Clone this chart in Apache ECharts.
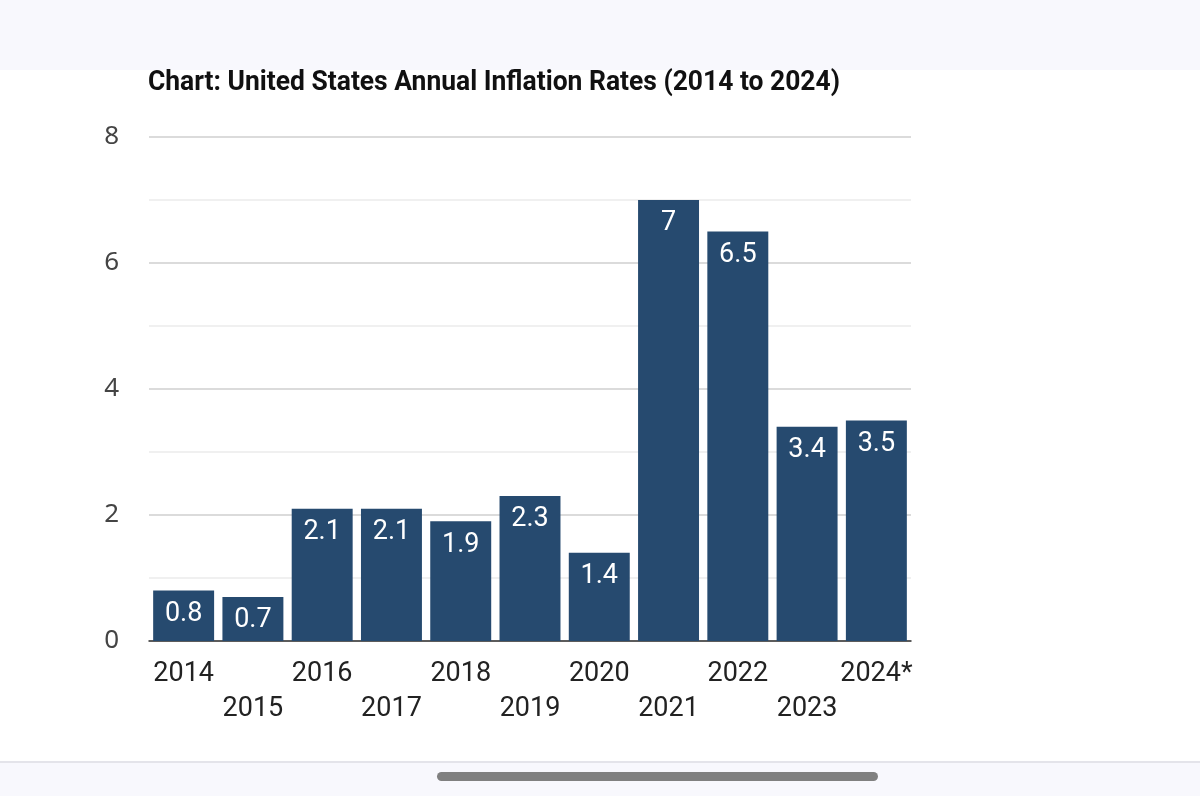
<!DOCTYPE html>
<html>
<head>
<meta charset="utf-8">
<title>United States Annual Inflation Rates</title>
<script src="https://cdn.jsdelivr.net/npm/echarts@6/dist/echarts.min.js"></script>
<style>
    html, body { margin: 0; padding: 0; background: #fff; }
    #topBand { position: absolute; left: 0; top: 0; width: 1200px; height: 70px; background: #f8f8fd; }
    #bottomBand { position: absolute; left: 0; top: 761px; width: 1200px; height: 35px; background: #f8f8fd; border-top: 2px solid #e4e4ea; }
    #homeBar { position: absolute; left: 437px; top: 772px; width: 441px; height: 9px; border-radius: 5px; background: #808080; }
    #chart { position: absolute; left: 0; top: 0; width: 1200px; height: 796px; }
</style>
</head>
<body>
<div id="topBand"></div>
<div id="chart"></div>
<div id="bottomBand"></div>
<div id="homeBar"></div>
<script>
var years = ['2014', '2015', '2016', '2017', '2018', '2019', '2020', '2021', '2022', '2023', '2024*'];
var rates = [0.8, 0.7, 2.1, 2.1, 1.9, 2.3, 1.4, 7, 6.5, 3.4, 3.5];
var yTicks = [0, 2, 4, 6, 8];
var titleText = 'Chart: United States Annual Inflation Rates (2014 to 2024)';

// title in the screenshot is a condensed bold face, squeeze Roboto Bold to the same width
var titleFont = 'bold 27px Roboto';
var ctx = document.createElement('canvas').getContext('2d');
ctx.font = titleFont;
var titleScale = 692 / ctx.measureText(titleText).width;

var chart = echarts.init(document.getElementById('chart'));
chart.setOption({
    animation: false,
    graphic: [{
        type: 'text',
        x: 148,
        y: 83,
        scaleX: titleScale,
        style: {
            text: titleText,
            font: titleFont,
            fill: '#111',
            textAlign: 'left',
            textVerticalAlign: 'middle'
        }
    }],
    grid: {
        left: 149,
        right: 289,
        top: 137,
        bottom: 155
    },
    xAxis: {
        type: 'category',
        data: years,
        axisLine: { lineStyle: { color: '#333', width: 1.5 } },
        axisTick: { show: false },
        axisLabel: {
            interval: 0,
            fontFamily: 'Roboto',
            fontSize: 27,
            color: '#222',
            margin: 16,
            lineHeight: 35,
            formatter: function (val, idx) {
                return idx % 2 ? '\n' + val : val;
            }
        }
    },
    yAxis: {
        type: 'value',
        min: yTicks[0],
        max: yTicks[yTicks.length - 1],
        interval: 2,
        axisLine: { show: false },
        axisTick: { show: false },
        axisLabel: {
            fontFamily: "'Noto Sans'",
            fontSize: 26,
            color: '#444',
            margin: 30
        },
        splitLine: { lineStyle: { color: '#cfcfcf', width: 1.5 } },
        minorTick: { show: false, splitNumber: 2 },
        minorSplitLine: { show: true, lineStyle: { color: '#ececec', width: 1.5 } }
    },
    series: [{
        type: 'bar',
        data: rates,
        barCategoryGap: '12%',
        itemStyle: { color: '#264a6f' },
        label: {
            show: true,
            position: 'insideTop',
            distance: 10,
            fontFamily: 'Roboto',
            fontSize: 27,
            color: '#fff'
        }
    }]
});
</script>
</body>
</html>
